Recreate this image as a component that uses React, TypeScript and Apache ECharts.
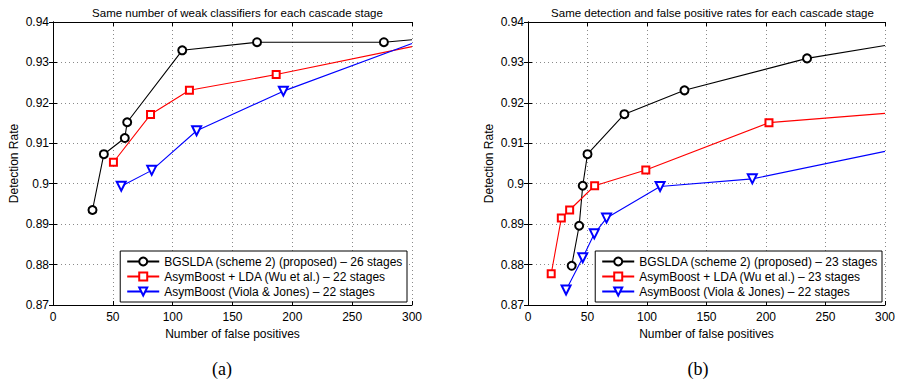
import React, { useEffect, useRef } from "react";
import * as echarts from "echarts";

const FONT = "Liberation Sans, Arial, Helvetica, sans-serif";

// Axis ranges / ticks
const xMin = 0;
const xMax = 300;
const xStep = 50;
const yMin = 0.87;
const yMax = 0.94;
const yStep = 0.01;

const titleA = "Same number of weak classifiers for each cascade stage";
const titleB = "Same detection and false positive rates for each cascade stage";
const xName = "Number of false positives";
const yName = "Detection Rate";

// Panel (a) — last value of each list is where the line leaves the plot (no marker)
const aBgsldaName = "BGSLDA (scheme 2) (proposed) – 26 stages";
const aBgsldaX = [33, 42.5, 60, 62, 108, 170.5, 276.5, 300];
const aBgsldaY = [0.8935, 0.9073, 0.9113, 0.9152, 0.933, 0.935, 0.935, 0.9356];
const aLdaName = "AsymBoost + LDA (Wu et al.) – 22 stages";
const aLdaX = [50.5, 81.5, 114, 186.5, 300];
const aLdaY = [0.9053, 0.9171, 0.9231, 0.927, 0.9339];
const aViolaName = "AsymBoost (Viola & Jones) – 22 stages";
const aViolaX = [57, 82.5, 120, 192.5, 300];
const aViolaY = [0.8994, 0.9033, 0.9131, 0.9229, 0.9347];

// Panel (b)
const bBgsldaName = "BGSLDA (scheme 2) (proposed) – 23 stages";
const bBgsldaX = [36.7, 43, 46, 50, 81, 131.5, 234.5, 300];
const bBgsldaY = [0.8797, 0.8896, 0.8995, 0.9073, 0.9172, 0.9231, 0.931, 0.9342];
const bLdaName = "AsymBoost + LDA (Wu et al.) – 23 stages";
const bLdaX = [19.5, 28, 35, 56, 99, 202.5, 300];
const bLdaY = [0.8777, 0.8915, 0.8935, 0.8995, 0.9034, 0.9151, 0.9174];
const bViolaName = "AsymBoost (Viola & Jones) – 22 stages";
const bViolaX = [32, 46, 55.7, 66, 111, 188.5, 300];
const bViolaY = [0.8737, 0.8817, 0.8876, 0.8915, 0.8993, 0.9012, 0.908];

const toData = (xs: number[], ys: number[]) =>
  xs.map((x, i) =>
    i === xs.length - 1 ? { value: [x, ys[i]], symbol: "none" } : [x, ys[i]]
  );

const GRID_W = 359;
const GRID_H = 283;
const GRID_TOP = 22;
const GRID_LEFTS = [53, 528];

function makeAxes(gridIndex: number) {
  const tick = { show: true, inside: true, length: 4, lineStyle: { color: "#000", width: 1 } };
  const line = { show: true, lineStyle: { color: "#000", width: 1 } };
  const split = { show: true, lineStyle: { color: "#8a8a8a", type: [1, 3] as any, width: 1 } };
  const x = [
    {
      type: "value",
      gridIndex,
      min: xMin,
      max: xMax,
      interval: xStep,
      position: "bottom",
      axisLine: line,
      axisTick: tick,
      splitLine: split,
      axisLabel: { color: "#000", fontSize: 12, fontFamily: FONT, margin: 6 },
      name: xName,
      nameLocation: "middle",
      nameGap: 18,
      nameTextStyle: { color: "#000", fontSize: 12, fontFamily: FONT },
    },
    {
      type: "value",
      gridIndex,
      min: xMin,
      max: xMax,
      interval: xStep,
      position: "top",
      axisLine: line,
      axisTick: tick,
      splitLine: { show: false },
      axisLabel: { show: false },
    },
  ];
  const y = [
    {
      type: "value",
      gridIndex,
      min: yMin,
      max: yMax,
      interval: yStep,
      position: "left",
      axisLine: line,
      axisTick: tick,
      splitLine: split,
      axisLabel: {
        color: "#000",
        fontSize: 12,
        fontFamily: FONT,
        margin: 4,
        formatter: (v: number) => String(+v.toFixed(2)),
      },
      name: yName,
      nameLocation: "middle",
      nameGap: 33,
      nameTextStyle: { color: "#000", fontSize: 12, fontFamily: FONT },
    },
    {
      type: "value",
      gridIndex,
      min: yMin,
      max: yMax,
      interval: yStep,
      position: "right",
      axisLine: line,
      axisTick: tick,
      splitLine: { show: false },
      axisLabel: { show: false },
    },
  ];
  return { x, y };
}

function makeSeries(
  name: string,
  xs: number[],
  ys: number[],
  color: string,
  symbol: string,
  size: number,
  rotate: number,
  axisIdx: number
) {
  return {
    type: "line",
    name,
    xAxisIndex: axisIdx,
    yAxisIndex: axisIdx,
    data: toData(xs, ys),
    symbol,
    symbolSize: size,
    symbolRotate: rotate,
    showAllSymbol: true,
    lineStyle: { color, width: 1.1 },
    itemStyle: { color, borderColor: color, borderWidth: 1.1 },
    emphasis: { disabled: true },
    clip: true,
    z: 3,
  };
}

function makeLegend(names: string[], right: number) {
  return {
    data: names,
    orient: "vertical",
    right,
    top: 251,
    itemWidth: 32,
    itemHeight: 10,
    itemGap: 0,
    padding: [3, 4, 3, 6],
    borderColor: "#000",
    borderWidth: 1,
    borderRadius: 0,
    backgroundColor: "#fff",
    selectedMode: false,
    textStyle: { color: "#000", fontSize: 12, fontFamily: FONT, lineHeight: 15 },
    z: 10,
  };
}

export default function App() {
  const ref = useRef<HTMLDivElement>(null);
  useEffect(() => {
    if (!ref.current) return;
    const chart = echarts.init(ref.current, undefined, { renderer: "svg" });
    const a = makeAxes(0);
    const b = makeAxes(1);
    const titleStyle = { color: "#000", fontSize: 11.5, fontWeight: "normal", fontFamily: FONT };
    const option: any = {
      animation: false,
      backgroundColor: "#fff",
      textStyle: { fontFamily: FONT },
      title: [
        {
          text: titleA,
          left: GRID_LEFTS[0] + GRID_W / 2,
          textAlign: "center",
          top: 2,
          textStyle: titleStyle,
        },
        {
          text: titleB,
          left: GRID_LEFTS[1] + GRID_W / 2,
          textAlign: "center",
          top: 2,
          textStyle: titleStyle,
        },
      ],
      grid: GRID_LEFTS.map((l) => ({ left: l, top: GRID_TOP, width: GRID_W, height: GRID_H })),
      xAxis: [...a.x, ...b.x],
      yAxis: [...a.y, ...b.y],
      legend: [
        makeLegend([aBgsldaName, aLdaName, aViolaName], 491),
        makeLegend([bBgsldaName, bLdaName, bViolaName], 16),
      ],
      series: [
        makeSeries(aBgsldaName, aBgsldaX, aBgsldaY, "#000000", "emptyCircle", 8, 0, 0),
        makeSeries(aLdaName, aLdaX, aLdaY, "#ff0000", "emptyRect", 7, 0, 0),
        makeSeries(aViolaName, aViolaX, aViolaY, "#0000ff", "emptyTriangle", 9, 180, 0),
        makeSeries(bBgsldaName, bBgsldaX, bBgsldaY, "#000000", "emptyCircle", 8, 0, 2),
        makeSeries(bLdaName, bLdaX, bLdaY, "#ff0000", "emptyRect", 7, 0, 2),
        makeSeries(bViolaName, bViolaX, bViolaY, "#0000ff", "emptyTriangle", 9, 180, 2),
      ],
      graphic: [
        {
          type: "text",
          x: 222,
          y: 369,
          style: {
            text: "(a)",
            fontSize: 18,
            fontFamily: "Liberation Serif, Times New Roman, serif",
            fill: "#000",
            align: "center",
            verticalAlign: "middle",
          },
        },
        {
          type: "text",
          x: 698,
          y: 369,
          style: {
            text: "(b)",
            fontSize: 18,
            fontFamily: "Liberation Serif, Times New Roman, serif",
            fill: "#000",
            align: "center",
            verticalAlign: "middle",
          },
        },
      ],
    };
    chart.setOption(option);
    return () => chart.dispose();
  }, []);
  return (
    <div
      ref={ref}
      style={{ position: "fixed", left: 0, top: 0, width: 898, height: 383, background: "#fff" }}
    />
  );
}
